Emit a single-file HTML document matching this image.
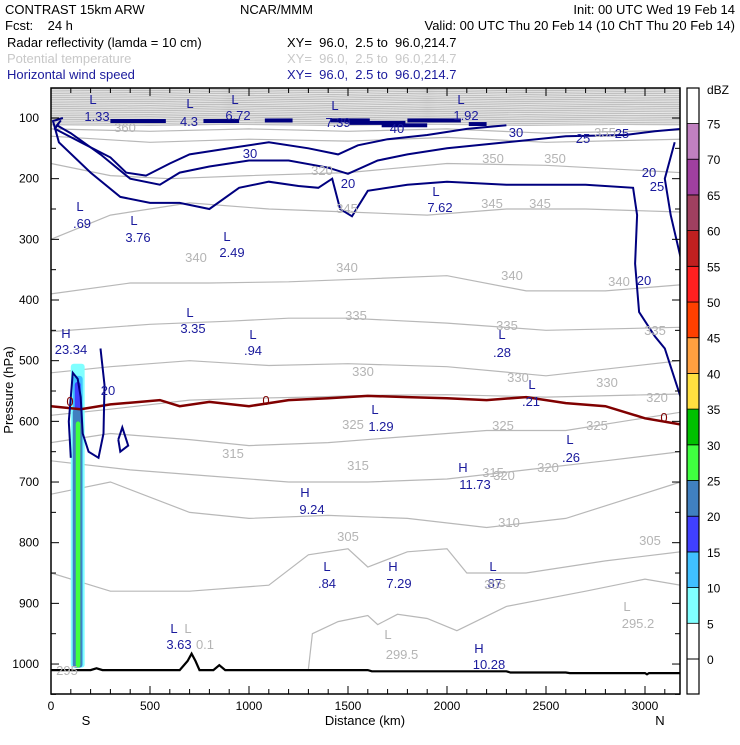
<!DOCTYPE html>
<html><head><meta charset="utf-8"><style>
body{margin:0;background:#fff;}
svg text{font-family:"Liberation Sans",sans-serif;white-space:pre;}
</style></head><body>
<svg id="chart" width="740" height="740" viewBox="0 0 740 740" xmlns="http://www.w3.org/2000/svg" xml:space="preserve">
<rect width="740" height="740" fill="#fff"/>
<g font-size="13">
<text x="5" y="14">CONTRAST 15km ARW</text>
<text x="240" y="14">NCAR/MMM</text>
<text x="735" y="14" text-anchor="end">Init: 00 UTC Wed 19 Feb 14</text>
<text x="5" y="30">Fcst:    24 h</text>
<text x="735" y="30" text-anchor="end">Valid: 00 UTC Thu 20 Feb 14 (10 ChT Thu 20 Feb 14)</text>
<text x="7" y="47">Radar reflectivity (lamda = 10 cm)</text>
<text x="287" y="47">XY=  96.0,  2.5 to  96.0,214.7</text>
<text x="7" y="63" fill="#c8c8c8">Potential temperature</text>
<text x="287" y="63" fill="#c8c8c8">XY=  96.0,  2.5 to  96.0,214.7</text>
<text x="7" y="79" fill="#1a1a9c">Horizontal wind speed</text>
<text x="287" y="79" fill="#1a1a9c">XY=  96.0,  2.5 to  96.0,214.7</text>
</g>
<defs><clipPath id="pc"><rect x="51" y="88" width="629" height="606"/></clipPath></defs>
<g id="plot" clip-path="url(#pc)"></g>
<g id="axes"></g>
<g id="cbar"></g>
</svg>
<script>
// ---- data ----
const dbzLevels=[5,10,15,20,25,30,35,40,45,50,55,60,65,70];
const dbzColors=["#80ffff","#40c0ff","#4040ff","#4080c0","#40ff40","#00c000","#ffe040","#ffa040","#ff4000","#ff2020","#c02020","#a04060","#a040a0","#c080c0"];
const xTicks=[0,500,1000,1500,2000,2500,3000];
const yTicks=[100,200,300,400,500,600,700,800,900,1000];
const thetaLevels=[360,355,350,345,340,335,330,325,320,315,310,305,300];
const thetaLines=[
[[0,118],[500,122],[1000,118],[1500,122],[2000,118],[2500,125],[3180,120]],
[[0,130],[500,140],[1000,135],[1500,138],[2000,132],[2500,140],[3180,135]],
[[0,175],[300,195],[600,200],[1000,195],[1500,190],[2000,175],[2500,178],[3180,190]],
[[0,300],[300,260],[700,240],[1100,250],[1500,255],[1900,260],[2300,250],[2700,250],[3180,255]],
[[0,390],[400,372],[800,372],[1200,370],[1600,365],[2000,360],[2400,385],[2800,385],[3180,375]],
[[0,452],[500,440],[900,435],[1200,430],[1500,430],[2000,438],[2500,450],[3180,445]],
[[0,520],[300,510],[700,500],[1100,508],[1500,505],[2000,510],[2500,525],[3180,500]],
[[0,590],[300,580],[700,565],[1000,562],[1300,560],[1600,557],[2000,556],[2500,560],[3180,555]],
[[0,635],[300,620],[700,630],[1000,640],[1400,635],[1800,625],[2200,615],[2600,615],[3180,585]],
[[0,665],[400,680],[800,690],[1200,700],[1600,700],[2000,695],[2400,680],[2800,665],[3180,650]],
[[0,720],[300,700],[700,750],[1000,760],[1400,755],[1800,760],[2200,775],[2600,760],[3180,700]],
[[0,850],[300,880],[700,880],[1100,870],[1300,820],[1500,810],[1600,840],[1800,815],[2000,810],[2100,850],[2400,850],[2800,830],[3180,815]],
[[1300,1008],[1320,950],[1450,930],[1600,920],[1650,935],[1750,918],[1900,925],[2050,945],[2300,905],[2700,880],[3000,860],[3180,870]]
];
const stratoLevels=[51,54,57,60,63,66,69,72,75,78,81,84,87,90,93,96,99,102,105,108,111];
const windLevels=[30,25,20,20,25,20];
const windLines=[
[[40,108],[20,118],[150,140],[300,165],[380,190],[480,195],[600,175],[700,160],[900,150],[1100,140],[1300,150],[1450,160],[1550,145],[1700,135],[1900,128],[2100,118],[2300,112]],
[[50,104],[30,112],[100,125],[250,160],[400,200],[550,210],[650,190],[800,180],[1000,170],[1200,170],[1400,182],[1500,192],[1650,170],[1800,160],[2000,150],[2300,140],[2600,130],[2900,128],[3050,122],[3180,118]],
[[60,100],[10,105],[40,140],[200,190],[350,230],[500,240],[650,240],[800,250],[950,215],[1100,205],[1250,212],[1350,215],[1420,200],[1460,250],[1520,262],[1600,220],[1800,210],[2000,205],[2300,210],[2700,210],[2940,215],[2960,260],[2950,340],[2970,420],[3050,460],[3100,480],[3180,560]],
[[100,660],[90,600],[110,520],[135,530],[150,560],[160,620],[190,650],[240,660],[265,620],[270,540],[250,480]],
[[3150,140],[3100,200],[3130,260],[3180,330]],
[[340,630],[360,610],[390,640],[350,650],[340,630]]
];
const jetBars=[[300,580,105],[770,950,105],[1080,1220,104],[1410,1610,104],[1510,1790,108],[1800,2070,104],[2110,2200,110],[1670,1900,112]];
const freezeLine=[[0,575],[150,580],[300,572],[450,568],[550,565],[650,575],[800,568],[1000,575],[1200,565],[1400,562],[1600,558],[1800,560],[2000,562],[2200,565],[2400,560],[2600,570],[2800,575],[3000,595],[3180,605]];
const surface=[[0,1010],[200,1010],[230,1007],[260,1010],[650,1010],[690,995],[710,983],[730,995],[750,1010],[820,1010],[850,1002],[880,1010],[1600,1010],[1620,1012],[2300,1012],[2320,1014],[2600,1014],[2620,1015],[3000,1015],[3010,1017],[3020,1015],[3180,1015]];
const column=[[100,170,505,1006,0],[110,160,525,1006,1],[120,150,535,1006,2],[110,158,580,1006,3],[125,148,600,1006,4]];

const X=k=>51+k*0.198, Y=p=>118+(p-100)*0.6067;
const NS="http://www.w3.org/2000/svg";
function mk(t,a,parent){const e=document.createElementNS(NS,t);for(const k in a)e.setAttribute(k,a[k]);parent.appendChild(e);return e;}
const plot=document.getElementById('plot'),axes=document.getElementById('axes'),cb=document.getElementById('cbar');
const pts=l=>l.map(q=>X(q[0]).toFixed(1)+','+Y(q[1]).toFixed(1)).join(' ');

stratoLevels.forEach((p,i)=>{const l=mk('polyline',{points:pts([[0,p],[500,p+1],[900,p-0.8],[1400,p+1.2],[1900,p-1],[2400,p+1],[2900,p-0.5],[3180,p]]),fill:'none',stroke:'#c0c0c0','stroke-width':1.3},plot);

});
thetaLines.forEach((ln,i)=>{const l=mk('polyline',{points:pts(ln),fill:'none',stroke:'#b8b8b8','stroke-width':1.2},plot);

});
column.forEach(c=>{const r=mk('rect',{x:X(c[0]),y:Y(c[2]),width:X(c[1])-X(c[0]),height:Y(c[3])-Y(c[2]),fill:dbzColors[c[4]],rx:3},plot);

});
{const l=mk('polyline',{points:pts(freezeLine),fill:'none',stroke:'#800000','stroke-width':2.5},plot);

}
windLines.forEach((ln,i)=>{const l=mk('polyline',{points:pts(ln),fill:'none',stroke:'#00007f','stroke-width':2},plot);

});
jetBars.forEach(b=>{const r=mk('rect',{x:X(b[0]),y:Y(b[2])-2,width:X(b[1])-X(b[0]),height:4,fill:'#00007f'},plot);

});
{const l=mk('polyline',{points:pts(surface),fill:'none',stroke:'#000','stroke-width':2.2},plot);

}

const navy="#1a1a9c",gray="#b4b4b4";
const labels=[
["L",93,104,navy],["1.33",97,121,navy],["L",190,108,navy],["4.3",189,126,navy],["L",235,104,navy],["6.72",238,120,navy],
["L",335,110,navy],["7.39",338,127,navy],["L",461,104,navy],["1.92",466,120,navy],["L",436,196,navy],["7.62",440,212,navy],
["L",80,211,navy],[".69",82,228,navy],["L",134,225,navy],["3.76",138,242,navy],["L",227,241,navy],["2.49",232,257,navy],
["L",190,317,navy],["3.35",193,333,navy],["L",253,339,navy],[".94",253,355,navy],["H",66,338,navy],["23.34",71,354,navy],
["L",502,339,navy],[".28",502,357,navy],["L",532,389,navy],[".21",531,406,navy],["L",375,414,navy],["1.29",381,431,navy],
["L",570,444,navy],[".26",571,462,navy],["H",463,472,navy],["11.73",475,489,navy],["H",305,497,navy],["9.24",312,514,navy],
["L",327,571,navy],[".84",327,588,navy],["H",393,571,navy],["7.29",399,588,navy],["L",493,571,navy],[".87",493,588,navy],
["L",174,633,navy],["3.63",179,649,navy],["H",479,653,navy],["10.28",489,669,navy],
["L",627,611,gray],["295.2",638,628,gray],["L",388,639,gray],["299.5",402,659,gray],["L",188,633,gray],["0.1",205,649,gray],["295",67,675,gray],
["40",397,133,navy],["30",516,137,navy],["30",250,158,navy],["25",583,143,navy],["25",622,138,navy],["20",348,188,navy],["20",649,177,navy],["25",657,191,navy],["20",644,285,navy],["20",108,395,navy],
["345",347,213,gray],["345",492,208,gray],["345",540,208,gray],["340",196,262,gray],["340",347,272,gray],["340",512,280,gray],["340",619,286,gray],
["335",356,320,gray],["335",507,330,gray],["335",655,335,gray],["330",363,376,gray],["330",518,382,gray],["330",607,387,gray],
["325",353,429,gray],["325",503,430,gray],["325",597,430,gray],["320",504,480,gray],["320",548,472,gray],["320",657,402,gray],
["315",233,458,gray],["315",358,470,gray],["315",493,477,gray],["310",509,527,gray],["305",348,541,gray],["305",495,589,gray],["305",650,545,gray],
["350",493,163,gray],["350",555,163,gray],["320",322,175,gray],["360",125,132,gray],["355",605,137,gray],["0",70,406,"#800000"],["0",266,405,"#800000"],["0",664,422,"#800000"]
];
labels.forEach(l=>{const t=mk('text',{x:l[1],y:l[2],'text-anchor':'middle','font-size':13,fill:l[3]},plot);t.textContent=l[0];

});

{const r=mk('rect',{x:51,y:88,width:629,height:606,fill:'none',stroke:'#000','stroke-width':1.5},axes);

}
for(let k=0;k<=3100;k+=100){mk('line',{x1:X(k),x2:X(k),y1:694,y2:k%500?689:686,stroke:'#000'},axes);mk('line',{x1:X(k),x2:X(k),y1:88,y2:k%500?93:96,stroke:'#000'},axes);}
for(let p=100;p<=1050;p+=50){mk('line',{x1:51,x2:p%100?56:59,y1:Y(p),y2:Y(p),stroke:'#000'},axes);mk('line',{x1:680,x2:p%100?675:672,y1:Y(p),y2:Y(p),stroke:'#000'},axes);}
xTicks.forEach(k=>{const t=mk('text',{x:X(k),y:710,'text-anchor':'middle','font-size':12},axes);t.textContent=k;

});
yTicks.forEach(p=>{const t=mk('text',{x:39,y:Y(p)+4,'text-anchor':'end','font-size':12},axes);t.textContent=p;

});
[["S",86,725],["N",660,725],["Distance (km)",365,725]].forEach(a=>{const t=mk('text',{x:a[1],y:a[2],'text-anchor':'middle','font-size':13},axes);t.textContent=a[0];

});
{const t=mk('text',{x:0,y:0,'text-anchor':'middle','font-size':13,transform:'translate(13,390) rotate(-90)'},axes);t.textContent='Pressure (hPa)';

}

const cbY=d=>659-d*7.14;
{const r=mk('rect',{x:687,y:88,width:12,height:606,fill:'#fff',stroke:'#000'},cb);

}
dbzLevels.forEach((d,i)=>{const r=mk('rect',{x:687,y:cbY(d+5),width:12,height:cbY(d)-cbY(d+5),fill:dbzColors[i],stroke:'#000','stroke-width':0.8},cb);

});
mk('line',{x1:687,x2:699,y1:cbY(0),y2:cbY(0),stroke:'#000'},cb);
mk('rect',{x:687,y:88,width:12,height:606,fill:'none',stroke:'#000','stroke-width':1.2},cb);
[0,5,10,15,20,25,30,35,40,45,50,55,60,65,70,75].forEach(d=>{const t=mk('text',{x:707,y:cbY(d)+5,'font-size':12},cb);t.textContent=d;

});
{const t=mk('text',{x:707,y:94,'font-size':12},cb);t.textContent='dBZ';

}
</script>
</body></html>
